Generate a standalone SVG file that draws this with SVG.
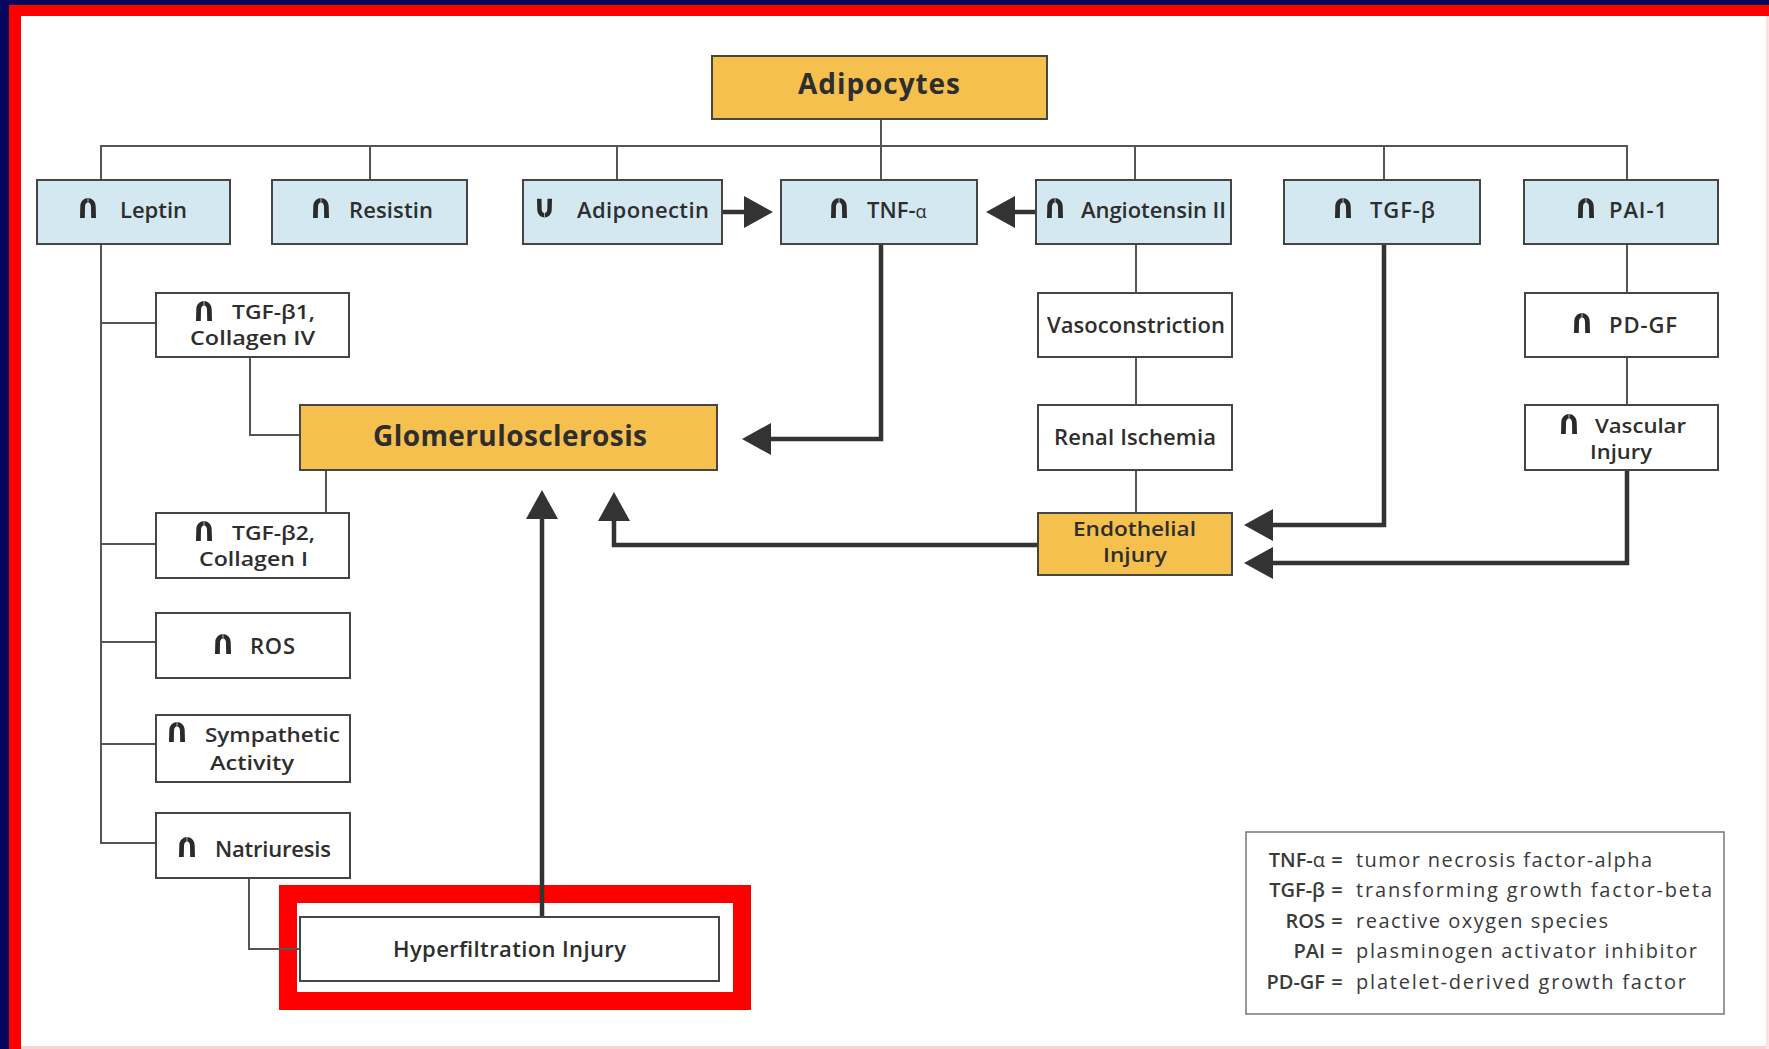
<svg xmlns="http://www.w3.org/2000/svg" width="1769" height="1049" viewBox="0 0 1769 1049">
  <style>
    .t { font-family: "Open Sans", "Noto Sans", "DejaVu Sans", sans-serif; font-weight: 600; font-size: 22px; fill: #2e2e2e; }
    .two { font-size: 19px; }
    .big { font-size: 28px; font-weight: 700; }
    .leg { font-size: 20px; font-weight: 400; fill: #3a3a3a; }
    .abbr { font-weight: 600; }
    .bx { fill: #d3e8f1; stroke: #454545; stroke-width: 2; }
    .wb { fill: #ffffff; stroke: #454545; stroke-width: 2; }
    .ob { fill: #f5c04e; stroke: #454545; stroke-width: 2; }
    .thin { fill: none; stroke: #555; stroke-width: 2; }
    .thick { fill: none; stroke: #333; stroke-width: 4.5; }
  </style>
  <defs>
    <!-- increase / decrease glyph icons -->
    <symbol id="up" viewBox="0 0 16 20">
      <path d="M0,20 L0.3,8.5 C0.3,3.6 3.6,0 8,0 C12.4,0 15.7,3.6 15.7,8.5 L16,20 L11.2,20 L11,9 C11,6.2 9.8,4.6 8,4.6 C6.2,4.6 5,6.2 5,9 L4.8,20 Z" fill="#2a2a2a"/>
      <path d="M8,0 V4.6" stroke="#ffffff" stroke-width="1.1" opacity="0.6"/>
    </symbol>
    <symbol id="down" viewBox="0 0 16 20">
      <g transform="translate(0,20) scale(1,-1)">
        <path d="M0,20 L0.3,8.5 C0.3,3.6 3.6,0 8,0 C12.4,0 15.7,3.6 15.7,8.5 L16,20 L11.2,20 L11,9 C11,6.2 9.8,4.6 8,4.6 C6.2,4.6 5,6.2 5,9 L4.8,20 Z" fill="#2a2a2a"/>
        <path d="M8,0 V4.6" stroke="#ffffff" stroke-width="1.1" opacity="0.6"/>
      </g>
    </symbol>
    <marker id="ah" markerUnits="userSpaceOnUse" markerWidth="30" markerHeight="32" viewBox="0 0 30 32" refX="0" refY="16" orient="auto">
      <path d="M0,0 L29,16 L0,32 Z" fill="#333"/>
    </marker>
  </defs>

  <!-- slide frame -->
  <rect x="0" y="0" width="1769" height="1049" fill="#ffffff"/>
  <rect x="0" y="0" width="1769" height="5" fill="#06065e"/>
  <rect x="0" y="0" width="9" height="1049" fill="#06065e"/>
  <rect x="9" y="5" width="1760" height="11" fill="#ff0000"/>
  <rect x="9" y="5" width="12" height="1044" fill="#ff0000"/>
  <rect x="21" y="1046" width="1748" height="3" fill="#fbd3d3"/>
  <rect x="1766" y="16" width="3" height="1033" fill="#fbe3e3"/>

  <!-- highlight frame around hyperfiltration -->
  <rect x="288" y="894" width="454" height="107" fill="none" stroke="#ff0000" stroke-width="18"/>

  <!-- connectors -->
  <g id="connectors">
    <path class="thin" d="M881,119 V180"/>
    <path class="thin" d="M101,180 V146 H1627 V180"/>
    <path class="thin" d="M370,146 V180 M617,146 V180 M1135,146 V180 M1384,146 V180"/>
    <path class="thin" d="M101,244 V844 M101,323 H156 M101,544 H156 M101,642 H156 M101,744 H156 M101,843 H156"/>
    <path class="thin" d="M250,357 V435 H300"/>
    <path class="thin" d="M326,470 V513"/>
    <path class="thin" d="M249,878 V949 H300"/>
    <path class="thin" d="M1136,244 V293 M1136,357 V405 M1136,470 V513"/>
    <path class="thin" d="M1627,244 V293 M1627,357 V405"/>
    <path class="thick" d="M722,212 H744" marker-end="url(#ah)"/>
    <path class="thick" d="M1036,212 H1015" marker-end="url(#ah)"/>
    <path class="thick" d="M881,244 V439 H771" marker-end="url(#ah)"/>
    <path class="thick" d="M542,917 V519" marker-end="url(#ah)"/>
    <path class="thick" d="M1038,545 H614 V521" marker-end="url(#ah)"/>
    <path class="thick" d="M1384,244 V525 H1273" marker-end="url(#ah)"/>
    <path class="thick" d="M1627,470 V563 H1273" marker-end="url(#ah)"/>
  </g>

  <g id="adipocytes">
    <rect class="ob" x="712" y="56" width="335" height="63"/>
    <text class="t big" x="879" y="94" text-anchor="middle" textLength="162">Adipocytes</text>
  </g>

  <g id="leptin">
    <rect class="bx" x="37" y="180" width="193" height="64"/>
    <use href="#up" x="80" y="198" width="16" height="20"/>
    <text class="t" x="120" y="218" textLength="67">Leptin</text>
  </g>
  <g id="resistin">
    <rect class="bx" x="272" y="180" width="195" height="64"/>
    <use href="#up" x="313" y="198" width="16" height="20"/>
    <text class="t" x="349" y="218" textLength="84">Resistin</text>
  </g>
  <g id="adiponectin">
    <rect class="bx" x="523" y="180" width="199" height="64"/>
    <use href="#down" x="537" y="198" width="15" height="20"/>
    <text class="t" x="577" y="218" textLength="132">Adiponectin</text>
  </g>
  <g id="tnf">
    <rect class="bx" x="781" y="180" width="196" height="64"/>
    <use href="#up" x="831" y="198" width="16" height="20"/>
    <text class="t" x="867" y="218">TNF-<tspan font-weight="400" font-size="18">α</tspan></text>
  </g>
  <g id="angiotensin">
    <rect class="bx" x="1036" y="180" width="195" height="64"/>
    <use href="#up" x="1047" y="198" width="16" height="20"/>
    <text class="t" x="1081" y="218" textLength="145">Angiotensin II</text>
  </g>
  <g id="tgfb">
    <rect class="bx" x="1284" y="180" width="196" height="64"/>
    <use href="#up" x="1335" y="198" width="16" height="20"/>
    <text class="t" x="1370" y="218" textLength="65">TGF-β</text>
  </g>
  <g id="pai1">
    <rect class="bx" x="1524" y="180" width="194" height="64"/>
    <use href="#up" x="1578" y="198" width="16" height="20"/>
    <text class="t" x="1609" y="218" textLength="58">PAI-1</text>
  </g>

  <g id="tgfb1">
    <rect class="wb" x="156" y="293" width="193" height="64"/>
    <use href="#up" x="196" y="301" width="16" height="20"/>
    <text class="t two" x="232" y="319" textLength="83" lengthAdjust="spacingAndGlyphs">TGF-β1,</text>
    <text class="t two" x="190" y="345" textLength="125" lengthAdjust="spacingAndGlyphs">Collagen IV</text>
  </g>
  <g id="glomerulosclerosis">
    <rect class="ob" x="300" y="405" width="417" height="65"/>
    <text class="t big" x="510" y="446" text-anchor="middle" textLength="274">Glomerulosclerosis</text>
  </g>
  <g id="tgfb2">
    <rect class="wb" x="156" y="513" width="193" height="65"/>
    <use href="#up" x="196" y="521" width="16" height="20"/>
    <text class="t two" x="232" y="540" textLength="83" lengthAdjust="spacingAndGlyphs">TGF-β2,</text>
    <text class="t two" x="199" y="566" textLength="109" lengthAdjust="spacingAndGlyphs">Collagen I</text>
  </g>
  <g id="ros">
    <rect class="wb" x="156" y="613" width="194" height="65"/>
    <use href="#up" x="215" y="634" width="16" height="20"/>
    <text class="t" x="250" y="654" textLength="45">ROS</text>
  </g>
  <g id="sympathetic">
    <rect class="wb" x="156" y="715" width="194" height="67"/>
    <use href="#up" x="169" y="722" width="16" height="20"/>
    <text class="t two" x="205" y="742" textLength="135" lengthAdjust="spacingAndGlyphs">Sympathetic</text>
    <text class="t two" x="210" y="770" textLength="84" lengthAdjust="spacingAndGlyphs">Activity</text>
  </g>
  <g id="natriuresis">
    <rect class="wb" x="156" y="813" width="194" height="65"/>
    <use href="#up" x="179" y="837" width="16" height="20"/>
    <text class="t" x="215" y="857" textLength="116">Natriuresis</text>
  </g>
  <g id="hyperfiltration">
    <rect class="wb" x="300" y="917" width="419" height="64"/>
    <text class="t" x="393" y="957" textLength="233">Hyperfiltration Injury</text>
  </g>

  <g id="vasoconstriction">
    <rect class="wb" x="1038" y="293" width="194" height="64"/>
    <text class="t" x="1047" y="333" textLength="178">Vasoconstriction</text>
  </g>
  <g id="renal-ischemia">
    <rect class="wb" x="1038" y="405" width="194" height="65"/>
    <text class="t" x="1054" y="445" textLength="162">Renal Ischemia</text>
  </g>
  <g id="endothelial">
    <rect class="ob" x="1038" y="513" width="194" height="62"/>
    <text class="t two" x="1073" y="536" textLength="123" lengthAdjust="spacingAndGlyphs">Endothelial</text>
    <text class="t two" x="1103" y="562" textLength="64" lengthAdjust="spacingAndGlyphs">Injury</text>
  </g>
  <g id="pdgf">
    <rect class="wb" x="1525" y="293" width="193" height="64"/>
    <use href="#up" x="1574" y="313" width="16" height="20"/>
    <text class="t" x="1609" y="333" textLength="68">PD-GF</text>
  </g>
  <g id="vascular-injury">
    <rect class="wb" x="1525" y="405" width="193" height="65"/>
    <use href="#up" x="1561" y="414" width="16" height="20"/>
    <text class="t two" x="1595" y="433" textLength="91" lengthAdjust="spacingAndGlyphs">Vascular</text>
    <text class="t two" x="1590" y="459" textLength="62" lengthAdjust="spacingAndGlyphs">Injury</text>
  </g>

  <g id="legend">
    <rect x="1246" y="832" width="478" height="182" fill="#ffffff" stroke="#777" stroke-width="1.5"/>
    <g class="t leg">
      <text class="abbr" x="1325" y="867" text-anchor="end">TNF-<tspan font-weight="400">α</tspan></text>
      <text class="abbr" x="1337" y="867" text-anchor="middle">=</text>
      <text x="1356" y="867" textLength="296">tumor necrosis factor-alpha</text>
      <text class="abbr" x="1325" y="897" text-anchor="end">TGF-β</text>
      <text class="abbr" x="1337" y="897" text-anchor="middle">=</text>
      <text x="1356" y="897" textLength="356">transforming growth factor-beta</text>
      <text class="abbr" x="1325" y="928" text-anchor="end">ROS</text>
      <text class="abbr" x="1337" y="928" text-anchor="middle">=</text>
      <text x="1356" y="928" textLength="252">reactive oxygen species</text>
      <text class="abbr" x="1325" y="958" text-anchor="end">PAI</text>
      <text class="abbr" x="1337" y="958" text-anchor="middle">=</text>
      <text x="1356" y="958" textLength="341">plasminogen activator inhibitor</text>
      <text class="abbr" x="1325" y="989" text-anchor="end">PD-GF</text>
      <text class="abbr" x="1337" y="989" text-anchor="middle">=</text>
      <text x="1356" y="989" textLength="330">platelet-derived growth factor</text>
    </g>
  </g>
</svg>
